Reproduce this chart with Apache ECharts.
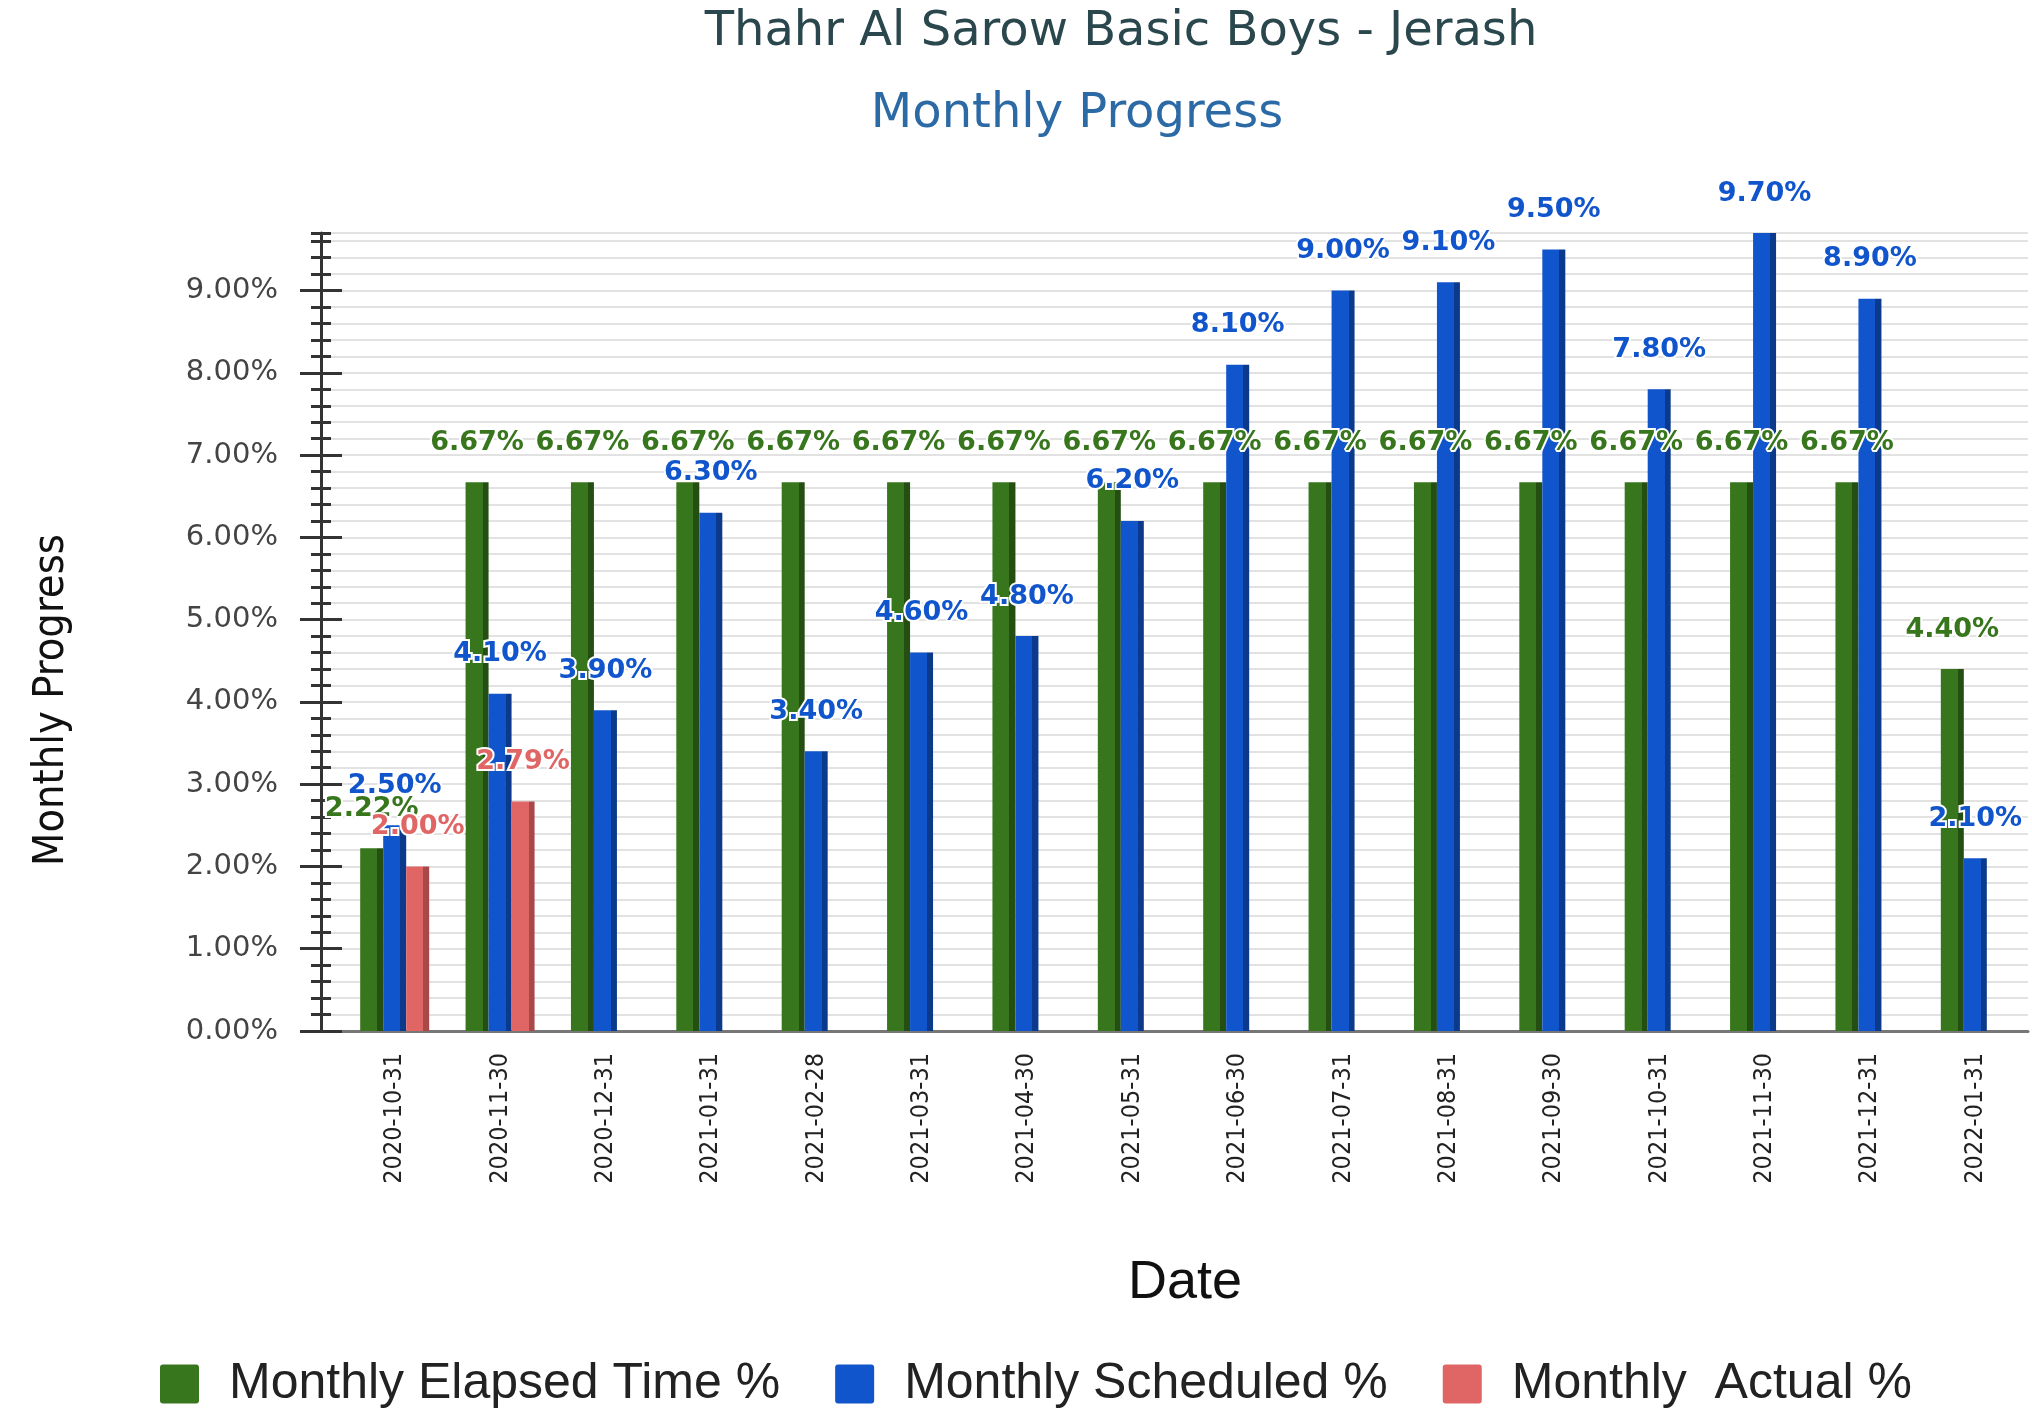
<!DOCTYPE html>
<html>
<head>
<meta charset="utf-8">
<script src="https://cdn.jsdelivr.net/npm/echarts@6/dist/echarts.min.js"></script>
<style>
html,body{margin:0;padding:0;background:#fff;}
#chart{width:2032px;height:1408px;}
</style>
</head>
<body>
<div id="chart"></div>
<script>
const categories = ['2020-10-31','2020-11-30','2020-12-31','2021-01-31','2021-02-28','2021-03-31','2021-04-30','2021-05-31','2021-06-30','2021-07-31','2021-08-31','2021-09-30','2021-10-31','2021-11-30','2021-12-31','2022-01-31'];
const elapsed = [2.22, 6.67, 6.67, 6.67, 6.67, 6.67, 6.67, 6.67, 6.67, 6.67, 6.67, 6.67, 6.67, 6.67, 6.67, 4.40];
const scheduled = [2.50, 4.10, 3.90, 6.30, 3.40, 4.60, 4.80, 6.20, 8.10, 9.00, 9.10, 9.50, 7.80, 9.70, 8.90, 2.10];
const actual = [2.00, 2.79, null, null, null, null, null, null, null, null, null, null, null, null, null, null];
const yMajorTicks = [0, 1, 2, 3, 4, 5, 6, 7, 8, 9];
const seriesNames = ['Monthly Elapsed Time %', 'Monthly Scheduled %', 'Monthly  Actual %'];

const Y_MAX = 9.7;
const narrowFont = '"Liberation Sans Narrow", "DejaVu Sans Condensed", "Liberation Sans", sans-serif';
const colors = [
  {front: '#38761d', side: '#254f12'},
  {front: '#1155cc', side: '#0b3a8c'},
  {front: '#e06666', side: '#a94848'}
];
function barColor(c) {
  return new echarts.graphic.LinearGradient(0, 0, 1, 0, [
    {offset: 0, color: c.front}, {offset: 0.74, color: c.front},
    {offset: 0.74, color: c.side}, {offset: 1, color: c.side}
  ]);
}
const pct = v => Number(v).toFixed(2) + '%';

const chart = echarts.init(document.getElementById('chart'), null, {renderer: 'canvas'});
const gridBase = {top: 233, bottom: 377, right: 4, containLabel: false};

function yAx(extra) {
  return Object.assign({
    type: 'value', gridIndex: 0, position: 'left', offset: 0, min: 0, max: Y_MAX, interval: 1,
    axisLine: {show: false}, axisTick: {show: false}, axisLabel: {show: false},
    splitLine: {show: false}
  }, extra);
}

const seriesData = [elapsed, scheduled, actual];
const series = seriesData.map((d, i) => ({
  name: seriesNames[i], type: 'bar', xAxisIndex: 1, yAxisIndex: 4,
  data: d, barWidth: 23, barGap: '0%',
  itemStyle: {color: barColor(colors[i])},
  label: {
    show: true, position: 'top', distance: 26,
    formatter: p => pct(p.value),
    fontFamily: '"DejaVu Sans"', fontWeight: 'bold', fontSize: 27,
    color: colors[i].front, textBorderColor: '#fff', textBorderWidth: 4
  }
}));

chart.setOption({
  animation: false,
  backgroundColor: '#fff',
  graphic: [
    {type: 'text', x: 1121, y: 33, style: {text: 'Thahr Al Sarow Basic Boys - Jerash', font: '48px "DejaVu Sans"', fill: '#2a474d', textAlign: 'center', textVerticalAlign: 'middle'}},
    {type: 'text', x: 1077, y: 115, style: {text: 'Monthly Progress', font: '48px "DejaVu Sans"', fill: '#2c6aa6', textAlign: 'center', textVerticalAlign: 'middle'}},
    {type: 'text', x: 52, y: 700, rotation: Math.PI / 2, style: {text: 'Monthly Progress', font: '43px ' + narrowFont, fill: '#111', textAlign: 'center', textVerticalAlign: 'middle'}}
  ],
  legend: {
    left: 155, top: 1354, itemWidth: 39, itemHeight: 39, itemGap: 55,
    icon: 'path://M3,0 L36,0 Q39,0 39,3 L39,36 Q39,39 36,39 L3,39 Q0,39 0,36 L0,3 Q0,0 3,0 Z',
    textStyle: {fontFamily: '"Liberation Sans"', fontSize: 50, color: '#222', padding: [0, 0, 0, 25]},
    data: seriesNames.map((n, i) => ({name: n, itemStyle: {color: colors[i].front}}))
  },
  grid: [
    Object.assign({left: 321}, gridBase),
    Object.assign({left: 342}, gridBase)
  ],
  xAxis: [
    {type: 'value', gridIndex: 0, min: 0, max: 1, axisLine: {show: true, onZero: false, lineStyle: {color: '#777', width: 3}}, axisTick: {show: false}, axisLabel: {show: false}, splitLine: {show: false}},
    {type: 'category', gridIndex: 1, data: categories,
     axisLine: {show: false}, axisTick: {show: false},
     axisLabel: {interval: 0, rotate: 90, margin: 22, fontFamily: narrowFont, fontSize: 25, color: '#222'},
     name: 'Date', nameLocation: 'middle', nameGap: 225,
     nameTextStyle: {fontFamily: '"Liberation Sans"', fontSize: 54, color: '#111'}}
  ],
  yAxis: [
    yAx({
      axisLine: {show: true, lineStyle: {color: '#333', width: 3}},
      axisTick: {show: true, length: 21, customValues: yMajorTicks, lineStyle: {color: '#333', width: 3}},
      axisLabel: {show: true, customValues: yMajorTicks, margin: 43, formatter: pct, fontFamily: '"DejaVu Sans"', fontSize: 29, color: '#444'},
      splitLine: {show: true, lineStyle: {color: '#cfcfcf', width: 2}}
    }),
    yAx({axisTick: {show: true, inside: true, length: 21, customValues: yMajorTicks, lineStyle: {color: '#333', width: 3}}}),
    yAx({interval: 0.2, axisTick: {show: true, length: 10, lineStyle: {color: '#333', width: 3}},
         splitLine: {show: true, lineStyle: {color: '#e2e2e2', width: 2}}}),
    yAx({interval: 0.2, axisTick: {show: true, inside: true, length: 10, lineStyle: {color: '#333', width: 3}}}),
    {type: 'value', gridIndex: 1, min: 0, max: Y_MAX, interval: 1, show: false}
  ],
  series: series
});
</script>
</body>
</html>
